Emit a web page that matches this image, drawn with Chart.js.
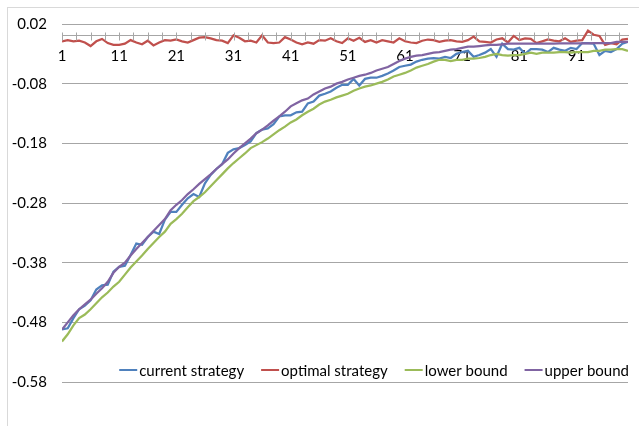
<!DOCTYPE html>
<html>
<head>
<meta charset="utf-8">
<script src="https://cdn.jsdelivr.net/npm/chart.js@4.4.1/dist/chart.umd.min.js"></script>
<style>
  html, body { margin: 0; padding: 0; background: #fff; }
  #wrap { width: 639px; height: 426px; position: relative; }
</style>
</head>
<body>
<div id="wrap"><canvas id="lineChart" width="639" height="426"></canvas></div>
<script>
// run index 1..100
const runs = Array.from({ length: 100 }, function(_, i) { return i + 1; });
const xLabelValues = [1, 11, 21, 31, 41, 51, 61, 71, 81, 91];
const yTickValues = [0.02, -0.08, -0.18, -0.28, -0.38, -0.48, -0.58];

const currentStrategy = [
  -0.492, -0.490, -0.473, -0.458, -0.452, -0.443, -0.425, -0.418, -0.417, -0.395,
  -0.387, -0.385, -0.367, -0.348, -0.350, -0.337, -0.328, -0.332, -0.308, -0.295,
  -0.295, -0.283, -0.272, -0.265, -0.270, -0.247, -0.233, -0.223, -0.215, -0.196,
  -0.190, -0.188, -0.183, -0.177, -0.163, -0.157, -0.155, -0.148, -0.135, -0.133,
  -0.133, -0.128, -0.127, -0.113, -0.110, -0.100, -0.097, -0.093, -0.087, -0.082,
  -0.082, -0.072, -0.083, -0.072, -0.070, -0.070, -0.067, -0.063, -0.058, -0.052,
  -0.050, -0.048, -0.043, -0.040, -0.038, -0.037, -0.038, -0.035, -0.037, -0.030,
  -0.027, -0.025, -0.035, -0.032, -0.028, -0.022, -0.035, -0.013, -0.022, -0.023,
  -0.020, -0.030, -0.022, -0.022, -0.023, -0.027, -0.020, -0.023, -0.025, -0.020,
  -0.022, -0.012, -0.012, -0.013, -0.032, -0.025, -0.027, -0.022, -0.013, -0.010
];

const optimalStrategy = [
  -0.009, -0.007, -0.009, -0.008, -0.011, -0.017, -0.009, -0.005, -0.012, -0.015,
  -0.015, -0.013, -0.007, -0.011, -0.014, -0.008, -0.016, -0.011, -0.007, -0.008,
  -0.006, -0.009, -0.011, -0.007, -0.003, -0.002, -0.004, -0.007, -0.008, -0.012,
   0.001, -0.003, -0.009, -0.008, -0.011,  0.001, -0.011, -0.012, -0.011, -0.002,
  -0.006, -0.011, -0.014, -0.011, -0.013, -0.007, -0.008, -0.004, -0.009, -0.012,
  -0.004, -0.008, -0.003, -0.010, -0.007, -0.011, -0.007, -0.009, -0.011, -0.004,
  -0.009, -0.011, -0.012, -0.008, -0.006, -0.007, -0.010, -0.008, -0.007, -0.009,
  -0.010, -0.007, -0.001, -0.009, -0.010, -0.011, -0.006, -0.004, -0.011,  0.000,
  -0.007, -0.004, -0.005, -0.012, -0.009, -0.006, -0.008, -0.009, -0.004, -0.010,
  -0.008, -0.007,  0.009,  0.002,  0.000, -0.015, -0.012, -0.014, -0.006, -0.005
];

const lowerBound = [
  -0.512, -0.500, -0.485, -0.473, -0.467, -0.458, -0.448, -0.438, -0.430, -0.420,
  -0.412, -0.400, -0.388, -0.378, -0.368, -0.357, -0.347, -0.337, -0.328, -0.315,
  -0.307, -0.298, -0.287, -0.277, -0.270, -0.262, -0.252, -0.242, -0.232, -0.222,
  -0.213, -0.205, -0.197, -0.188, -0.183, -0.178, -0.172, -0.165, -0.158, -0.152,
  -0.145, -0.140, -0.133, -0.127, -0.122, -0.115, -0.110, -0.107, -0.103, -0.100,
  -0.097, -0.092, -0.088, -0.085, -0.083, -0.080, -0.077, -0.073, -0.068, -0.065,
  -0.062, -0.058, -0.053, -0.050, -0.047, -0.043, -0.040, -0.040, -0.042, -0.040,
  -0.040, -0.038, -0.038, -0.037, -0.035, -0.032, -0.030, -0.032, -0.033, -0.032,
  -0.032, -0.030, -0.028, -0.030, -0.028, -0.028, -0.028, -0.027, -0.027, -0.028,
  -0.027, -0.027, -0.027, -0.025, -0.025, -0.023, -0.023, -0.022, -0.022, -0.025
];

const upperBound = [
  -0.492, -0.480, -0.468, -0.458, -0.450, -0.442, -0.432, -0.423, -0.412, -0.397,
  -0.387, -0.380, -0.368, -0.357, -0.347, -0.337, -0.327, -0.317, -0.307, -0.292,
  -0.283, -0.275, -0.265, -0.257, -0.248, -0.240, -0.232, -0.223, -0.215, -0.207,
  -0.197, -0.188, -0.180, -0.172, -0.163, -0.157, -0.150, -0.142, -0.135, -0.127,
  -0.118, -0.113, -0.108, -0.105, -0.098, -0.093, -0.088, -0.085, -0.080, -0.077,
  -0.073, -0.070, -0.067, -0.065, -0.062, -0.058, -0.055, -0.052, -0.047, -0.042,
  -0.038, -0.035, -0.033, -0.032, -0.030, -0.028, -0.027, -0.025, -0.023, -0.022,
  -0.020, -0.018, -0.018, -0.017, -0.016, -0.015, -0.015, -0.014, -0.013, -0.013,
  -0.013, -0.013, -0.013, -0.013, -0.013, -0.013, -0.013, -0.0125, -0.0125, -0.0125,
  -0.0125, -0.0125, -0.0125, -0.012, -0.012, -0.012, -0.012, -0.010, -0.010, -0.010
];

const seriesNames = ['current strategy', 'optimal strategy', 'lower bound', 'upper bound'];
const seriesColors = ['#4f81bd', '#c0504d', '#9bbb59', '#8064a2'];
const seriesValues = [currentStrategy, optimalStrategy, lowerBound, upperBound];
// later series sit on top
const seriesOrder = [3, 2, 1, 0];

const FONT_FAMILY = 'Lato, "Open Sans", sans-serif';
const FONT = '15px ' + FONT_FAMILY;
const GRID = '#a6a6a6';

// outer frame, cut off at the right and bottom edges
const framePlugin = {
  id: 'frame',
  beforeDraw: function(chart) {
    const ctx = chart.ctx;
    ctx.save();
    ctx.fillStyle = '#fff';
    ctx.fillRect(0, 0, chart.width, chart.height);
    ctx.strokeStyle = '#d9d9d9';
    ctx.lineWidth = 1;
    ctx.strokeRect(7.5, 7.5, chart.width + 20, chart.height + 20);
    ctx.restore();
  }
};

// x tick marks cross the axis line
const crossTicks = {
  id: 'crossTicks',
  afterDraw: function(chart) {
    const xs = chart.scales.x;
    const y0 = Math.round(chart.scales.y.getPixelForValue(0)) + 0.5;
    const ctx = chart.ctx;
    ctx.save();
    ctx.strokeStyle = GRID;
    ctx.lineWidth = 1;
    ctx.beginPath();
    xs.ticks.forEach(function(t) {
      const px = Math.round(xs.getPixelForValue(t.value)) + 0.5;
      ctx.moveTo(px, y0 - 4);
      ctx.lineTo(px, y0 + 4);
    });
    ctx.stroke();
    ctx.restore();
  }
};

// legend laid out along the bottom of the plot area
const insideLegend = {
  id: 'insideLegend',
  afterDraw: function(chart) {
    const ctx = chart.ctx;
    const area = chart.chartArea;
    const lineW = 18, gap = 2, spacing = 17;
    ctx.save();
    ctx.font = FONT;
    ctx.textBaseline = 'middle';
    const items = chart.data.datasets.map(function(ds) {
      return { ds: ds, w: ctx.measureText(ds.label).width };
    });
    const total = items.reduce(function(s, it) { return s + lineW + gap + it.w; }, 0) + spacing * (items.length - 1);
    let x = area.right + 1 - total;
    const y = area.bottom - 12;
    items.forEach(function(it) {
      ctx.strokeStyle = it.ds.borderColor;
      ctx.lineWidth = 2;
      ctx.beginPath();
      ctx.moveTo(x, y);
      ctx.lineTo(x + lineW, y);
      ctx.stroke();
      ctx.fillStyle = '#000';
      ctx.fillText(it.ds.label, x + lineW + gap, y + 1);
      x += lineW + gap + it.w + spacing;
    });
    ctx.restore();
  }
};

new Chart(document.getElementById('lineChart'), {
  type: 'line',
  data: {
    datasets: seriesNames.map(function(name, i) {
      return {
        label: name,
        data: runs.map(function(r, j) { return { x: r, y: seriesValues[i][j] }; }),
        borderColor: seriesColors[i],
        backgroundColor: seriesColors[i],
        borderWidth: 2.25,
        pointRadius: 0,
        tension: 0,
        fill: false,
        order: seriesOrder[i]
      };
    })
  },
  options: {
    responsive: false,
    animation: false,
    layout: { padding: { left: 0, top: 22, right: 11, bottom: 44 } },
    plugins: {
      legend: { display: false },
      tooltip: { enabled: false }
    },
    scales: {
      x: {
        type: 'linear',
        position: { y: 0 },
        min: 1,
        max: 100,
        afterBuildTicks: function(scale) {
          const ticks = [];
          for (let v = xLabelValues[0]; v <= runs[runs.length - 1]; v += 2.5) ticks.push({ value: v });
          scale.ticks = ticks;
        },
        ticks: {
          autoSkip: false,
          maxRotation: 0,
          padding: 11,
          color: '#000',
          font: { family: FONT_FAMILY, size: 15 },
          callback: function(v) { return xLabelValues.indexOf(v) >= 0 ? String(v) : ''; }
        },
        grid: { drawOnChartArea: false, drawTicks: false },
        border: { display: true, color: GRID, width: 1 }
      },
      y: {
        min: yTickValues[yTickValues.length - 1],
        max: yTickValues[0],
        afterBuildTicks: function(scale) {
          scale.ticks = yTickValues.slice().reverse().map(function(v) { return { value: v }; });
        },
        afterFit: function(scale) { scale.width = 62; },
        ticks: {
          padding: 15,
          color: '#000',
          font: { family: FONT_FAMILY, size: 15 },
          callback: function(v) { return Number(v).toFixed(2); }
        },
        grid: { color: GRID, lineWidth: 1, drawTicks: false },
        border: { display: false }
      }
    }
  },
  plugins: [framePlugin, crossTicks, insideLegend]
});
</script>
</body>
</html>
